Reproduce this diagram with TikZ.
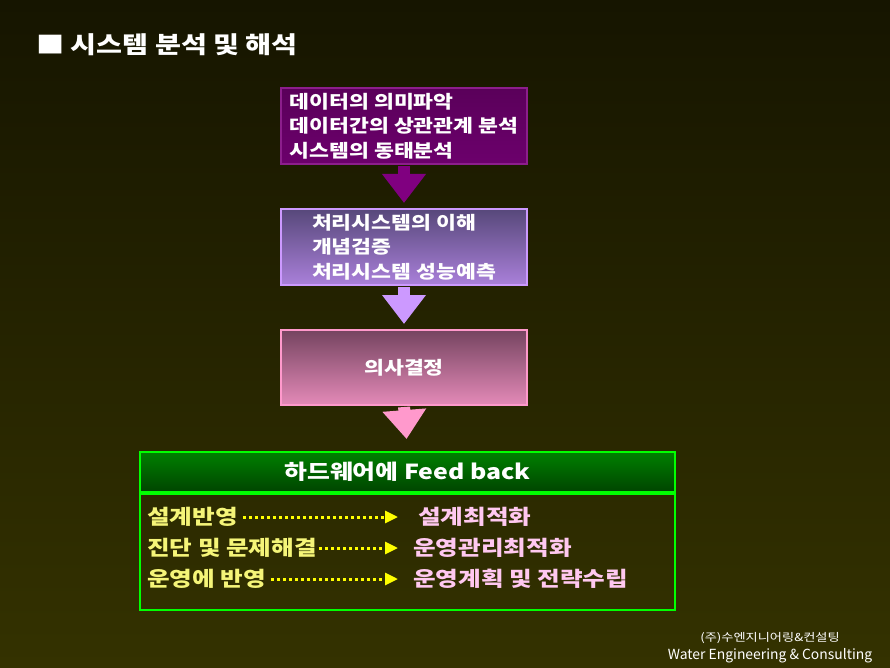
\documentclass[tikz,border=0pt]{standalone}
\usepackage{fontspec}
\setmainfont{Noto Sans CJK KR}[FakeStretch=1.2]
\newfontfamily\latinfont{Noto Sans CJK KR}
\usetikzlibrary{arrows.meta,positioning}

\definecolor{bgtop}{RGB}{22,21,0}
\definecolor{bgbot}{RGB}{52,50,0}
\definecolor{purplebox}{RGB}{108,0,108}
\definecolor{purpletop}{RGB}{90,0,90}
\definecolor{purpleline}{RGB}{140,30,140}
\definecolor{purplearrow}{RGB}{128,0,128}
\definecolor{lilactop}{RGB}{87,72,122}
\definecolor{lilacbot}{RGB}{170,128,218}
\definecolor{lilacline}{RGB}{204,153,255}
\definecolor{pinktop}{RGB}{117,68,96}
\definecolor{pinkbot}{RGB}{228,138,184}
\definecolor{pinkline}{RGB}{255,153,204}
\definecolor{greentop}{RGB}{0,128,0}
\definecolor{greenbot}{RGB}{0,68,0}
\definecolor{limeline}{RGB}{0,255,0}
\definecolor{rowyellow}{RGB}{245,245,120}
\definecolor{dotyellow}{RGB}{255,255,0}
\definecolor{rowpink}{RGB}{255,200,240}

\tikzset{
    stepbox/.style={draw, line width=2pt, rectangle, minimum width=246pt,
        minimum height=76pt, inner sep=0pt, text=white, align=left,
        font=\bfseries\fontsize{18pt}{24.5pt}\selectfont},
    blockarrow/.style={#1, line width=12pt, shorten <=1pt, shorten >=5pt,
        -{Triangle[width=42pt, length=29pt]}},
    rowleft/.style={anchor=west, inner sep=0pt, text=rowyellow,
        font=\bfseries\fontsize{20.5pt}{22pt}\selectfont},
    rowright/.style={anchor=west, inner sep=0pt, text=rowpink,
        font=\bfseries\fontsize{20.5pt}{22pt}\selectfont},
    dotarrow/.style={dotyellow, line width=3pt, dash pattern=on 3pt off 3pt,
        shorten <=5pt, -{Triangle[width=12pt, length=13pt]}}
}

\begin{document}
\begin{tikzpicture}[x=1pt, y=-1pt]
    % Background
    \useasboundingbox (0,0) rectangle (890,668);
    \shade[top color=bgtop, bottom color=bgbot] (0,0) rectangle (890,668);

    % Title
    \node[anchor=west, inner sep=0pt, text=white,
        font=\bfseries\fontsize{23.5pt}{25pt}\selectfont] (title) at (36,45)
        {■ 시스템 분석 및 해석};

    % Analysis steps
    \node[stepbox, draw=purpleline, top color=purpletop, bottom color=purplebox]
        (meaning) at (404,126)
        {데이터의 의미파악\\데이터간의 상관관계 분석\\시스템의 동태분석};
    \node[stepbox, draw=lilacline, top color=lilactop, bottom color=lilacbot,
        below=43pt of meaning] (process)
        {처리시스템의 이해\\개념검증\\처리시스템 성능예측};
    \node[stepbox, draw=pinkline, top color=pinktop, bottom color=pinkbot,
        align=center, minimum height=75pt, below=43pt of process] (decision)
        {의사결정};

    % Feed back box
    \node[draw=limeline, line width=2pt, top color=greentop, bottom color=greenbot,
        minimum width=535pt, minimum height=40pt, text=white,
        font=\bfseries\fontsize{20.7pt}{22pt}\selectfont] (feedhead) at (407.5,472)
        {하드웨어에 Feed back};
    \node[draw=limeline, line width=2pt, minimum width=535pt, minimum height=116pt,
        below=0pt of feedhead] (feedbody) {};

    % Block arrows
    \draw[blockarrow=purplearrow] (meaning.south) -- (process.north);
    \draw[blockarrow=lilacline] (process.south) -- (decision.north);
    \draw[blockarrow=pinkline, shorten >=12pt] (decision.south) -- (feedhead.north);

    % Feed back rows
    \node[rowleft] (design) at (147,517) {설계반영};
    \node[rowleft] (diagnose) at (147,548) {진단 및 문제해결};
    \node[rowleft] (operate) at (147,579) {운영에 반영};
    \node[rowright] (designopt) at (418,517) {설계최적화};
    \node[rowright] (manageopt) at (413,548) {운영관리최적화};
    \node[rowright] (planopt) at (413,579) {운영계획 및 전략수립};

    \draw[dotarrow, shorten >=20pt] (design.east) -- (designopt.west);
    \draw[dotarrow, shorten <=2pt, shorten >=15pt] (diagnose.east) -- (manageopt.west);
    \draw[dotarrow, shorten >=15pt] (operate.east) -- (planopt.west);

    % Company
    \node[text=white, inner sep=0pt, font=\fontsize{11pt}{13pt}\selectfont]
        (company) at (770,638) {(주)수엔지니어링\&컨설팅};
    \node[text=white, inner sep=0pt, font=\latinfont\fontsize{13.9pt}{15pt}\selectfont]
        (companyen) at (770,656) {Water Engineering \& Consulting};
\end{tikzpicture}
\end{document}
